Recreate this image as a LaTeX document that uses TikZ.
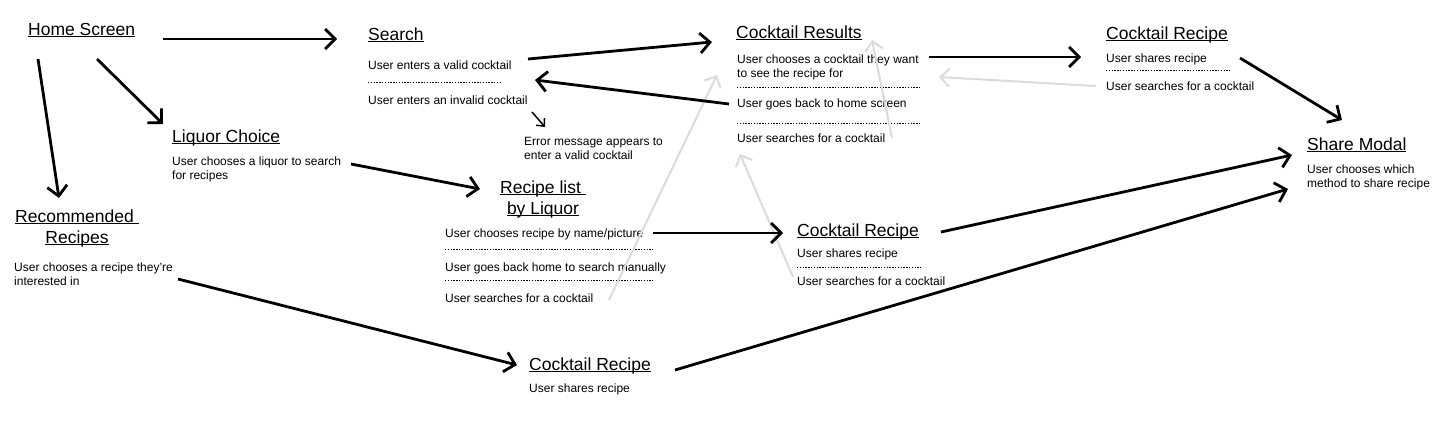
\documentclass[tikz,border=0pt]{standalone}
\usepackage{fontspec}
\setmainfont{Liberation Sans}
\usetikzlibrary{arrows.meta}
\newcommand\myul[1]{\setbox0\hbox{#1}\rlap{\rule[-2.3pt]{\wd0}{0.9pt}}\box0}
\tikzset{
  ttl/.style={inner sep=0pt, anchor=base west, font=\fontsize{17.5}{21}\selectfont},
  txt/.style={inner sep=0pt, anchor=base west, align=left, font=\fontsize{12}{14}\selectfont},
  sep/.style={line width=0.8pt, dash pattern=on 1.4pt off 1.4pt},
  arr/.style={line width=2.8pt, -{Straight Barb[length=10pt,width=20pt]}},
  sarr/.style={line width=1.5pt, -{Straight Barb[length=6pt,width=11pt]}},
  garr/.style={line width=2pt, draw=black!14, -{Straight Barb[length=9pt,width=18pt]}}
}
\begin{document}
\begin{tikzpicture}[x=1pt,y=-1pt]
\useasboundingbox (0,0) rectangle (1440,429);
% Home
\node[ttl] (home) at (28,35) {\myul{Home Screen}};
% Search
\node[ttl] (search) at (368,40) {\myul{Search}};
\node[txt] (s1) at (368,69) {User enters a valid cocktail};
\draw[sep] (368,82) -- (500,82);
\node[txt] (s2) at (368,104) {User enters an invalid cocktail};
\node[txt] (err) at (524,159) {Error message appears to\\enter a valid cocktail};
% Cocktail Results
\node[ttl] (results) at (736,38) {\myul{Cocktail Results}};
\node[txt] (r1) at (737,77) {User chooses a cocktail they want\\to see the recipe for};
\draw[sep] (737,87) -- (921,87);
\node[txt] (r2) at (737,107) {User goes back to home screen};
\draw[sep] (737,123) -- (921,123);
\node[txt] (r3) at (737,142) {User searches for a cocktail};
% Top cocktail recipe
\node[ttl] (recA) at (1106,39) {\myul{Cocktail Recipe}};
\node[txt] (a1) at (1106,62) {User shares recipe};
\draw[sep] (1106,70) -- (1230,70);
\node[txt] (a2) at (1106,90) {User searches for a cocktail};
% Share modal
\node[ttl] (share) at (1307,150) {\myul{Share Modal}};
\node[txt] (sh1) at (1307,187) {User chooses which\\method to share recipe};
% Liquor choice
\node[ttl] (liquor) at (172,142) {\myul{Liquor Choice}};
\node[txt] (l1) at (172,179) {User chooses a liquor to search\\for recipes};
% Recommended
\node[ttl, anchor=base] (recom1) at (77,222) {\myul{Recommended\ }};
\node[ttl, anchor=base] (recom2) at (77,243) {\myul{Recipes}};
\node[txt] (rc1) at (14,285) {User chooses a recipe they’re\\interested in};
% Recipe list by liquor
\node[ttl, anchor=base] (list1) at (543,193) {\myul{Recipe list\ }};
\node[ttl, anchor=base] (list2) at (543,214) {\myul{by Liquor}};
\node[txt] (li1) at (445,237) {User chooses recipe by name/picture};
\draw[sep] (445,249) -- (653,249);
\node[txt] (li2) at (445,271) {User goes back home to search manually};
\draw[sep] (445,280) -- (653,280);
\node[txt] (li3) at (445,302) {User searches for a cocktail};
% Middle cocktail recipe
\node[ttl] (recB) at (797,236) {\myul{Cocktail Recipe}};
\node[txt] (b1) at (797,257) {User shares recipe};
\draw[sep] (797,267) -- (921,267);
\node[txt] (b2) at (797,285) {User searches for a cocktail};
% Bottom cocktail recipe
\node[ttl] (recC) at (529,370) {\myul{Cocktail Recipe}};
\node[txt] (c1) at (529,392) {User shares recipe};

% connector end points
\coordinate (p1) at (163,39);  \coordinate (q1) at (337,39);
\coordinate (p2) at (97,59);   \coordinate (q2) at (163,124);
\coordinate (p3) at (38,59);   \coordinate (q3) at (59,198);
\coordinate (p4) at (528,59);  \coordinate (q4) at (712,42);
\coordinate (p5) at (729,104); \coordinate (q5) at (535,80);
\coordinate (p6) at (532,112); \coordinate (q6) at (545,127);
\coordinate (p7) at (351,164); \coordinate (q7) at (480,189);
\coordinate (p8) at (929,57);  \coordinate (q8) at (1081,57);
\coordinate (p9) at (1240,58); \coordinate (q9) at (1342,120);
\coordinate (p10) at (653,233); \coordinate (q10) at (783,233);
\coordinate (p11) at (941,232); \coordinate (q11) at (1292,155);
\coordinate (p12) at (178,279); \coordinate (q12) at (517,365);
\coordinate (p13) at (675,370); \coordinate (q13) at (1288,189);
\coordinate (ga) at (1096,86); \coordinate (ha) at (939,77);
\coordinate (gb) at (892,138); \coordinate (hb) at (872,40);
\coordinate (gc) at (609,300); \coordinate (hc) at (717,75);
\coordinate (gd) at (793,277); \coordinate (hd) at (740,154);

% gray connectors
\draw[garr] (ga) -- (ha);
\draw[garr] (gb) -- (hb);
\draw[garr] (gc) -- (hc);
\draw[garr] (gd) -- (hd);
% black connectors
\draw[arr] (p1) -- (q1);
\draw[arr] (p2) -- (q2);
\draw[arr] (p3) -- (q3);
\draw[arr] (p4) -- (q4);
\draw[arr] (p5) -- (q5);
\draw[sarr] (p6) -- (q6);
\draw[arr] (p7) -- (q7);
\draw[arr] (p8) -- (q8);
\draw[arr] (p9) -- (q9);
\draw[arr] (p10) -- (q10);
\draw[arr] (p11) -- (q11);
\draw[arr] (p12) -- (q12);
\draw[arr] (p13) -- (q13);
\end{tikzpicture}
\end{document}
